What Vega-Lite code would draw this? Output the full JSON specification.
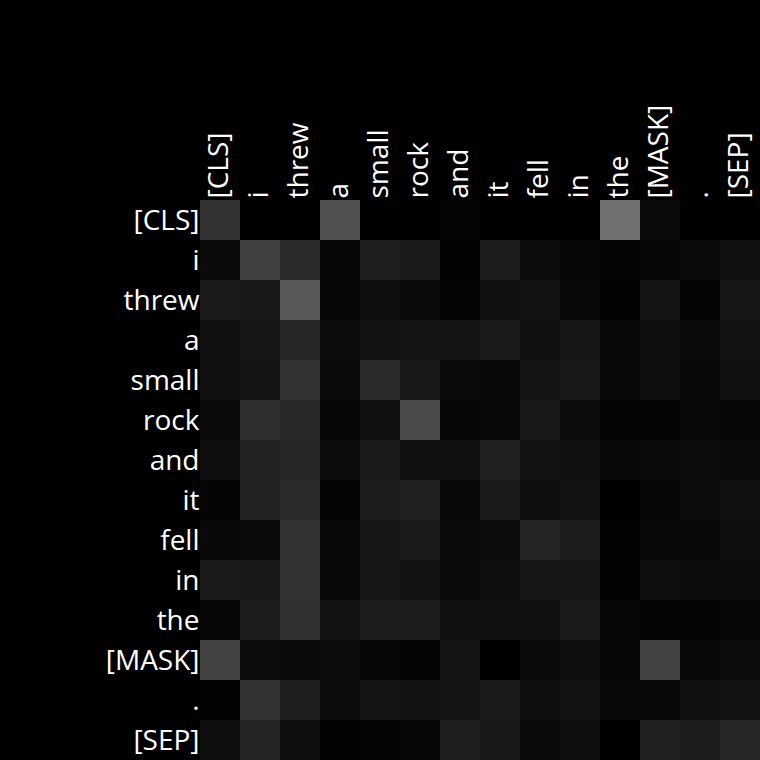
{
  "$schema": "https://vega.github.io/schema/vega-lite/v6.json",
  "width": 560,
  "height": 560,
  "autosize": "none",
  "padding": {"left": 200, "top": 200, "right": 0, "bottom": 0},
  "background": "#000000",
  "config": {"view": {"stroke": null}, "font": "Open Sans"},
  "data": {"values": [
    {"q":"[CLS]","k":"[CLS]","w":0.200},{"q":"[CLS]","k":"i","w":0},{"q":"[CLS]","k":"threw","w":0},{"q":"[CLS]","k":"a","w":0.314},{"q":"[CLS]","k":"small","w":0},{"q":"[CLS]","k":"rock","w":0},{"q":"[CLS]","k":"and","w":0.016},{"q":"[CLS]","k":"it","w":0},{"q":"[CLS]","k":"fell","w":0},{"q":"[CLS]","k":"in","w":0},{"q":"[CLS]","k":"the","w":0.439},{"q":"[CLS]","k":"[MASK]","w":0.043},{"q":"[CLS]","k":".","w":0},{"q":"[CLS]","k":"[SEP]","w":0},
    {"q":"i","k":"[CLS]","w":0.043},{"q":"i","k":"i","w":0.251},{"q":"i","k":"threw","w":0.169},{"q":"i","k":"a","w":0.027},{"q":"i","k":"small","w":0.122},{"q":"i","k":"rock","w":0.106},{"q":"i","k":"and","w":0.012},{"q":"i","k":"it","w":0.114},{"q":"i","k":"fell","w":0.047},{"q":"i","k":"in","w":0.024},{"q":"i","k":"the","w":0.016},{"q":"i","k":"[MASK]","w":0.024},{"q":"i","k":".","w":0.039},{"q":"i","k":"[SEP]","w":0.067},
    {"q":"threw","k":"[CLS]","w":0.106},{"q":"threw","k":"i","w":0.098},{"q":"threw","k":"threw","w":0.345},{"q":"threw","k":"a","w":0.027},{"q":"threw","k":"small","w":0.055},{"q":"threw","k":"rock","w":0.043},{"q":"threw","k":"and","w":0.016},{"q":"threw","k":"it","w":0.063},{"q":"threw","k":"fell","w":0.071},{"q":"threw","k":"in","w":0.035},{"q":"threw","k":"the","w":0.008},{"q":"threw","k":"[MASK]","w":0.082},{"q":"threw","k":".","w":0.020},{"q":"threw","k":"[SEP]","w":0.090},
    {"q":"a","k":"[CLS]","w":0.063},{"q":"a","k":"i","w":0.090},{"q":"a","k":"threw","w":0.149},{"q":"a","k":"a","w":0.047},{"q":"a","k":"small","w":0.071},{"q":"a","k":"rock","w":0.078},{"q":"a","k":"and","w":0.078},{"q":"a","k":"it","w":0.102},{"q":"a","k":"fell","w":0.063},{"q":"a","k":"in","w":0.090},{"q":"a","k":"the","w":0.031},{"q":"a","k":"[MASK]","w":0.059},{"q":"a","k":".","w":0.043},{"q":"a","k":"[SEP]","w":0.071},
    {"q":"small","k":"[CLS]","w":0.063},{"q":"small","k":"i","w":0.078},{"q":"small","k":"threw","w":0.200},{"q":"small","k":"a","w":0.043},{"q":"small","k":"small","w":0.165},{"q":"small","k":"rock","w":0.098},{"q":"small","k":"and","w":0.043},{"q":"small","k":"it","w":0.035},{"q":"small","k":"fell","w":0.082},{"q":"small","k":"in","w":0.094},{"q":"small","k":"the","w":0.031},{"q":"small","k":"[MASK]","w":0.055},{"q":"small","k":".","w":0.031},{"q":"small","k":"[SEP]","w":0.063},
    {"q":"rock","k":"[CLS]","w":0.039},{"q":"rock","k":"i","w":0.180},{"q":"rock","k":"threw","w":0.161},{"q":"rock","k":"a","w":0.027},{"q":"rock","k":"small","w":0.067},{"q":"rock","k":"rock","w":0.290},{"q":"rock","k":"and","w":0.027},{"q":"rock","k":"it","w":0.035},{"q":"rock","k":"fell","w":0.094},{"q":"rock","k":"in","w":0.051},{"q":"rock","k":"the","w":0.016},{"q":"rock","k":"[MASK]","w":0.016},{"q":"rock","k":".","w":0.035},{"q":"rock","k":"[SEP]","w":0.024},
    {"q":"and","k":"[CLS]","w":0.059},{"q":"and","k":"i","w":0.137},{"q":"and","k":"threw","w":0.153},{"q":"and","k":"a","w":0.047},{"q":"and","k":"small","w":0.106},{"q":"and","k":"rock","w":0.067},{"q":"and","k":"and","w":0.067},{"q":"and","k":"it","w":0.125},{"q":"and","k":"fell","w":0.071},{"q":"and","k":"in","w":0.063},{"q":"and","k":"the","w":0.035},{"q":"and","k":"[MASK]","w":0.039},{"q":"and","k":".","w":0.051},{"q":"and","k":"[SEP]","w":0.043},
    {"q":"it","k":"[CLS]","w":0.020},{"q":"it","k":"i","w":0.137},{"q":"it","k":"threw","w":0.169},{"q":"it","k":"a","w":0.016},{"q":"it","k":"small","w":0.114},{"q":"it","k":"rock","w":0.129},{"q":"it","k":"and","w":0.031},{"q":"it","k":"it","w":0.106},{"q":"it","k":"fell","w":0.055},{"q":"it","k":"in","w":0.071},{"q":"it","k":"the","w":0},{"q":"it","k":"[MASK]","w":0.024},{"q":"it","k":".","w":0.051},{"q":"it","k":"[SEP]","w":0.063},
    {"q":"fell","k":"[CLS]","w":0.035},{"q":"fell","k":"i","w":0.043},{"q":"fell","k":"threw","w":0.200},{"q":"fell","k":"a","w":0.035},{"q":"fell","k":"small","w":0.090},{"q":"fell","k":"rock","w":0.106},{"q":"fell","k":"and","w":0.039},{"q":"fell","k":"it","w":0.047},{"q":"fell","k":"fell","w":0.141},{"q":"fell","k":"in","w":0.110},{"q":"fell","k":"the","w":0.012},{"q":"fell","k":"[MASK]","w":0.035},{"q":"fell","k":".","w":0.035},{"q":"fell","k":"[SEP]","w":0.059},
    {"q":"in","k":"[CLS]","w":0.106},{"q":"in","k":"i","w":0.098},{"q":"in","k":"threw","w":0.200},{"q":"in","k":"a","w":0.035},{"q":"in","k":"small","w":0.090},{"q":"in","k":"rock","w":0.075},{"q":"in","k":"and","w":0.039},{"q":"in","k":"it","w":0.059},{"q":"in","k":"fell","w":0.086},{"q":"in","k":"in","w":0.086},{"q":"in","k":"the","w":0.008},{"q":"in","k":"[MASK]","w":0.059},{"q":"in","k":".","w":0.047},{"q":"in","k":"[SEP]","w":0.047},
    {"q":"the","k":"[CLS]","w":0.027},{"q":"the","k":"i","w":0.114},{"q":"the","k":"threw","w":0.188},{"q":"the","k":"a","w":0.071},{"q":"the","k":"small","w":0.110},{"q":"the","k":"rock","w":0.114},{"q":"the","k":"and","w":0.063},{"q":"the","k":"it","w":0.063},{"q":"the","k":"fell","w":0.063},{"q":"the","k":"in","w":0.102},{"q":"the","k":"the","w":0.027},{"q":"the","k":"[MASK]","w":0.016},{"q":"the","k":".","w":0.016},{"q":"the","k":"[SEP]","w":0.024},
    {"q":"[MASK]","k":"[CLS]","w":0.259},{"q":"[MASK]","k":"i","w":0.047},{"q":"[MASK]","k":"threw","w":0.039},{"q":"[MASK]","k":"a","w":0.047},{"q":"[MASK]","k":"small","w":0.027},{"q":"[MASK]","k":"rock","w":0.020},{"q":"[MASK]","k":"and","w":0.078},{"q":"[MASK]","k":"it","w":0},{"q":"[MASK]","k":"fell","w":0.043},{"q":"[MASK]","k":"in","w":0.055},{"q":"[MASK]","k":"the","w":0.027},{"q":"[MASK]","k":"[MASK]","w":0.259},{"q":"[MASK]","k":".","w":0.035},{"q":"[MASK]","k":"[SEP]","w":0.051},
    {"q":".","k":"[CLS]","w":0.008},{"q":".","k":"i","w":0.196},{"q":".","k":"threw","w":0.118},{"q":".","k":"a","w":0.051},{"q":".","k":"small","w":0.078},{"q":".","k":"rock","w":0.071},{"q":".","k":"and","w":0.078},{"q":".","k":"it","w":0.106},{"q":".","k":"fell","w":0.055},{"q":".","k":"in","w":0.071},{"q":".","k":"the","w":0.035},{"q":".","k":"[MASK]","w":0.035},{"q":".","k":".","w":0.063},{"q":".","k":"[SEP]","w":0.071},
    {"q":"[SEP]","k":"[CLS]","w":0.055},{"q":"[SEP]","k":"i","w":0.141},{"q":"[SEP]","k":"threw","w":0.059},{"q":"[SEP]","k":"a","w":0.012},{"q":"[SEP]","k":"small","w":0.020},{"q":"[SEP]","k":"rock","w":0.024},{"q":"[SEP]","k":"and","w":0.118},{"q":"[SEP]","k":"it","w":0.094},{"q":"[SEP]","k":"fell","w":0.043},{"q":"[SEP]","k":"in","w":0.059},{"q":"[SEP]","k":"the","w":0.004},{"q":"[SEP]","k":"[MASK]","w":0.129},{"q":"[SEP]","k":".","w":0.114},{"q":"[SEP]","k":"[SEP]","w":0.153}
  ]},
  "mark": {"type": "rect"},
  "encoding": {
    "x": {
      "field": "k", "type": "nominal",
      "sort": ["[CLS]","i","threw","a","small","rock","and","it","fell","in","the","[MASK]",".","[SEP]"],
      "scale": {"paddingInner": 0, "paddingOuter": 0},
      "axis": {"orient": "top", "title": null, "ticks": false, "domain": false, "labelAngle": -90, "labelAlign": "left", "labelBaseline": "middle", "labelPadding": 2, "labelColor": "#ffffff", "labelFont": "Open Sans", "labelFontSize": 28, "labelLimit": 0}
    },
    "y": {
      "field": "q", "type": "nominal",
      "sort": ["[CLS]","i","threw","a","small","rock","and","it","fell","in","the","[MASK]",".","[SEP]"],
      "scale": {"paddingInner": 0, "paddingOuter": 0},
      "axis": {"title": null, "ticks": false, "domain": false, "labelPadding": 1, "labelOffset": 2, "labelColor": "#ffffff", "labelFont": "Open Sans", "labelFontSize": 28, "labelLimit": 0}
    },
    "color": {
      "field": "w", "type": "quantitative",
      "scale": {"domain": [0, 1], "range": ["#000000", "#ffffff"], "interpolate": "rgb"},
      "legend": null
    }
  }
}
